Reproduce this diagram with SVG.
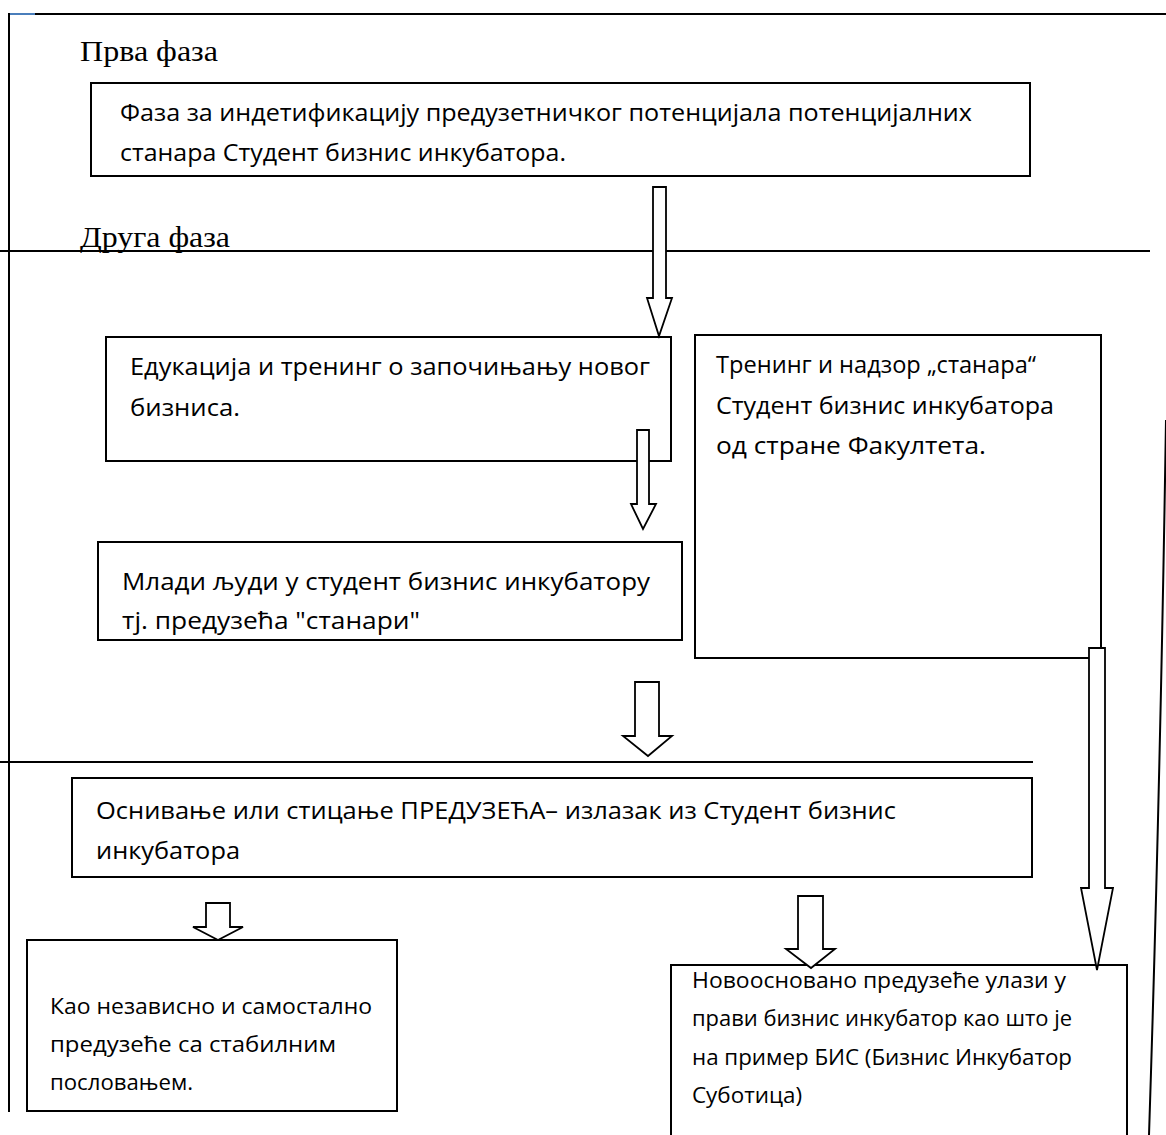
<svg xmlns="http://www.w3.org/2000/svg" width="1166" height="1135" viewBox="0 0 1166 1135">
<style>
.box{fill:#fff;stroke:#000;stroke-width:2}
.ln{fill:none;stroke:#000;stroke-width:2}
.arr{fill:#fff;stroke:#000;stroke-width:1.8;stroke-linejoin:miter}
.t{font-family:"Open Sans","Liberation Sans",Arial,sans-serif;font-size:23px;fill:#000}
.s{font-family:"Open Sans","Liberation Sans",Arial,sans-serif;font-size:21px;fill:#000}
.h{font-family:"Liberation Serif","Times New Roman",serif;font-size:30px;fill:#000}
</style>
<rect width="1166" height="1135" fill="#fff"/>
<g id="frame">
<line class="ln" x1="35" y1="14" x2="1166" y2="14"/>
<line x1="9" y1="14" x2="35" y2="14" stroke="#4a7ebb" stroke-width="2"/>
<line class="ln" x1="9" y1="13" x2="9" y2="1112"/>
<line class="ln" x1="0" y1="251" x2="1150" y2="251"/>
<line class="ln" x1="0" y1="762" x2="1033" y2="762"/>
<path class="ln" d="M1166,420 Q1160,800 1149,1135"/>
<text class="h" x="80" y="61" textLength="138" lengthAdjust="spacingAndGlyphs">Прва фаза</text>
<text class="h" x="80" y="247" textLength="150" lengthAdjust="spacingAndGlyphs">Друга фаза</text>
</g>
<g id="node1">
<rect class="box" x="91" y="83" width="939" height="93"/>
<text class="t" x="120" y="121" textLength="852" lengthAdjust="spacingAndGlyphs">Фаза за индетификацију предузетничког потенцијала потенцијалних</text>
<text class="t" x="120" y="161" textLength="446" lengthAdjust="spacingAndGlyphs">станара Студент бизнис инкубатора.</text>
</g>
<g id="node2">
<rect class="box" x="106" y="337" width="565" height="124"/>
<text class="t" x="130" y="375" textLength="520" lengthAdjust="spacingAndGlyphs">Едукација и тренинг о започињању новог</text>
<text class="t" x="130" y="416" textLength="110" lengthAdjust="spacingAndGlyphs">бизниса.</text>
</g>
<g id="node3">
<rect class="box" x="695" y="335" width="406" height="323"/>
<text class="t" x="716" y="373" textLength="320" lengthAdjust="spacingAndGlyphs">Тренинг и надзор „станара“</text>
<text class="t" x="716" y="414" textLength="338" lengthAdjust="spacingAndGlyphs">Студент бизнис инкубатора</text>
<text class="t" x="716" y="454" textLength="270" lengthAdjust="spacingAndGlyphs">од стране Факултета.</text>
</g>
<g id="node4">
<rect class="box" x="98" y="542" width="584" height="98"/>
<text class="t" x="122" y="590" textLength="528" lengthAdjust="spacingAndGlyphs">Млади људи у студент бизнис инкубатору</text>
<text class="t" x="122" y="629" textLength="298" lengthAdjust="spacingAndGlyphs">тј. предузећа "станари"</text>
</g>
<g id="node5">
<rect class="box" x="72" y="778" width="960" height="99"/>
<text class="t" x="96" y="819" textLength="800" lengthAdjust="spacingAndGlyphs">Оснивање или стицање ПРЕДУЗЕЋА– излазак из Студент бизнис</text>
<text class="t" x="96" y="859" textLength="144" lengthAdjust="spacingAndGlyphs">инкубатора</text>
</g>
<g id="node6">
<rect class="box" x="27" y="940" width="370" height="171"/>
<text class="s" x="50" y="1014" textLength="322" lengthAdjust="spacingAndGlyphs">Као независно и самостално</text>
<text class="s" x="50" y="1052" textLength="286" lengthAdjust="spacingAndGlyphs">предузеће  са стабилним</text>
<text class="s" x="50" y="1090" textLength="143" lengthAdjust="spacingAndGlyphs">пословањем.</text>
</g>
<g id="node7">
<rect class="box" x="671" y="965" width="456" height="190"/>
<text class="s" x="692" y="988" textLength="374" lengthAdjust="spacingAndGlyphs">Новоосновано предузеће улази у</text>
<text class="s" x="692" y="1026" textLength="380" lengthAdjust="spacingAndGlyphs">прави бизнис инкубатор као што је</text>
<text class="s" x="692" y="1065" textLength="380" lengthAdjust="spacingAndGlyphs">на пример БИС (Бизнис Инкубатор</text>
<text class="s" x="692" y="1103" textLength="110" lengthAdjust="spacingAndGlyphs">Суботица)</text>
</g>
<g id="connectors">
<polygon class="arr" points="653,187 666,187 666,298 672,298 659,336 647,298 653,298"/>
<polygon class="arr" points="637,430 649,430 649,504 656,504 643,529 631,504 637,504"/>
<polygon class="arr" points="635,682 659,682 659,736 672,736 648,756 623,736 635,736"/>
<polygon class="arr" points="206,903 230,903 230,927 243,927 218,940 193,927 206,927"/>
<polygon class="arr" points="798,896 823,896 823,949 835,949 811,968 786,949 798,949"/>
<polygon class="arr" points="1089,648 1105,648 1105,888 1113,888 1097,970 1081,888 1089,888"/>
</g>
</svg>
